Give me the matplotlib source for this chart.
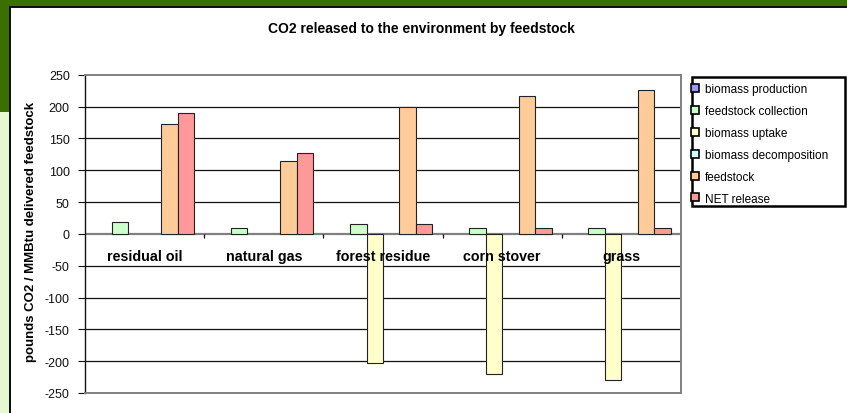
#!/usr/bin/env python3
import matplotlib.pyplot as plt
from matplotlib.lines import Line2D
from matplotlib.patches import Rectangle
import numpy as np

plt.rcParams['font.family'] = ['Liberation Sans', 'DejaVu Sans']
plt.rcParams['axes.unicode_minus'] = False

# Chart data
categories = ['residual oil', 'natural gas', 'forest residue', 'corn stover', 'grass']
series_names = ['biomass production', 'feedstock collection', 'biomass uptake',
                'biomass decomposition', 'feedstock', 'NET release']
biomass_production = [0, 0, 0, 0, 0]
feedstock_collection = [18, 9, 15, 9, 9]
biomass_uptake = [0, 0, -203, -220, -230]
biomass_decomposition = [0, 0, 0, 0, 0]
feedstock = [173, 114, 200, 216, 226]
net_release = [190, 127, 15, 9, 9]
series_colors = ['#9999ff', '#ccffcc', '#ffffcc', '#ccffff', '#ffcc99', '#ff9999']
yticks = [250, 200, 150, 100, 50, 0, -50, -100, -150, -200, -250]

W, H = 847, 414


def fx(px):
    return px / W


def fy(py):
    return 1 - py / H


fig = plt.figure(figsize=(W / 100, H / 100), dpi=100, facecolor='white')

# Slide frame: green band on top and left
fig.patches.append(Rectangle((0, fy(7)), 1, 7 / H, transform=fig.transFigure,
                             facecolor='#3b7000', edgecolor='none', zorder=0))
fig.patches.append(Rectangle((0, fy(9)), 1, 2 / H, transform=fig.transFigure,
                             facecolor='#111111', edgecolor='none', zorder=0))
fig.patches.append(Rectangle((0, fy(113)), fx(9), 113 / H, transform=fig.transFigure,
                             facecolor='#3b7000', edgecolor='none', zorder=0))
fig.patches.append(Rectangle((0, 0), fx(9), fy(113), transform=fig.transFigure,
                             facecolor='#e4f8d2', edgecolor='none', zorder=0))
fig.patches.append(Rectangle((fx(9), 0), fx(2), fy(9), transform=fig.transFigure,
                             facecolor='#111111', edgecolor='none', zorder=0))

# Plot area
left, right, top, bottom = 85, 681, 75.7, 394
ax = fig.add_axes([fx(left), fy(bottom), fx(right - left), (bottom - top) / H])
ax.set_facecolor('none')

series = [biomass_production, feedstock_collection, biomass_uptake,
          biomass_decomposition, feedstock, net_release]
n = len(series)
w = 0.1383
off = (1 - n * w) / 2
x = np.arange(len(categories))
for k, (vals, col) in enumerate(zip(series, series_colors)):
    vals = np.array(vals, dtype=float)
    mask = vals != 0
    ax.bar(x[mask] + off + k * w, vals[mask], width=w, align='edge',
           color=col, edgecolor='#222222', linewidth=0.8, zorder=3)

ax.set_xlim(0, len(categories))
ax.set_ylim(-250, 250)

# gridlines
for v in yticks:
    if v in (250, -250, 0):
        continue
    ax.axhline(v, color='#111111', linewidth=0.9, zorder=1)
ax.axhline(0, color='#808080', linewidth=1.6, zorder=2)

for side in ('top', 'right', 'bottom'):
    ax.spines[side].set_color('#808080')
    ax.spines[side].set_linewidth(1.4)
ax.spines['left'].set_color('#111111')
ax.spines['left'].set_linewidth(1.0)

ax.set_yticks(yticks)
ax.tick_params(axis='y', length=5, width=0.8, pad=6, labelsize=9, colors='#111111')
ax.set_xticks([])

# category tick marks and labels along the zero line
ax.vlines(np.arange(1, len(categories) + 1), 0, -6, color='#111111', linewidth=0.9, zorder=2)
for i, name in enumerate(categories):
    ax.text(i + 0.5, -35, name, ha='center', va='center', fontsize=10.3,
            fontweight='bold', zorder=4)

fig.text(fx(421), fy(29), 'CO2 released to the environment by feedstock',
         ha='center', va='center', fontsize=10, fontweight='bold')
fig.text(fx(31), fy(232), 'pounds CO2 / MMBtu delivered feedstock', rotation=90,
         ha='center', va='center', fontsize=9.5, fontweight='bold')

# legend
fig.patches.append(Rectangle((fx(692), fy(207)), fx(845 - 692), (207 - 78) / H,
                             transform=fig.transFigure, facecolor='white',
                             edgecolor='black', linewidth=1.8, zorder=5))
handles = [Line2D([], [], linestyle='none', marker='s', markersize=5.5,
                  markerfacecolor=c, markeredgecolor='black', markeredgewidth=1.2)
           for c in series_colors]
leg = fig.legend(handles, series_names, loc='upper left',
                 bbox_to_anchor=(fx(691), fy(84)), frameon=False, fontsize=8.5,
                 handlelength=0.7, handletextpad=0.45, labelspacing=0.84,
                 borderpad=0, borderaxespad=0)
leg.set_zorder(6)

fig.savefig('out.png', dpi=100)
